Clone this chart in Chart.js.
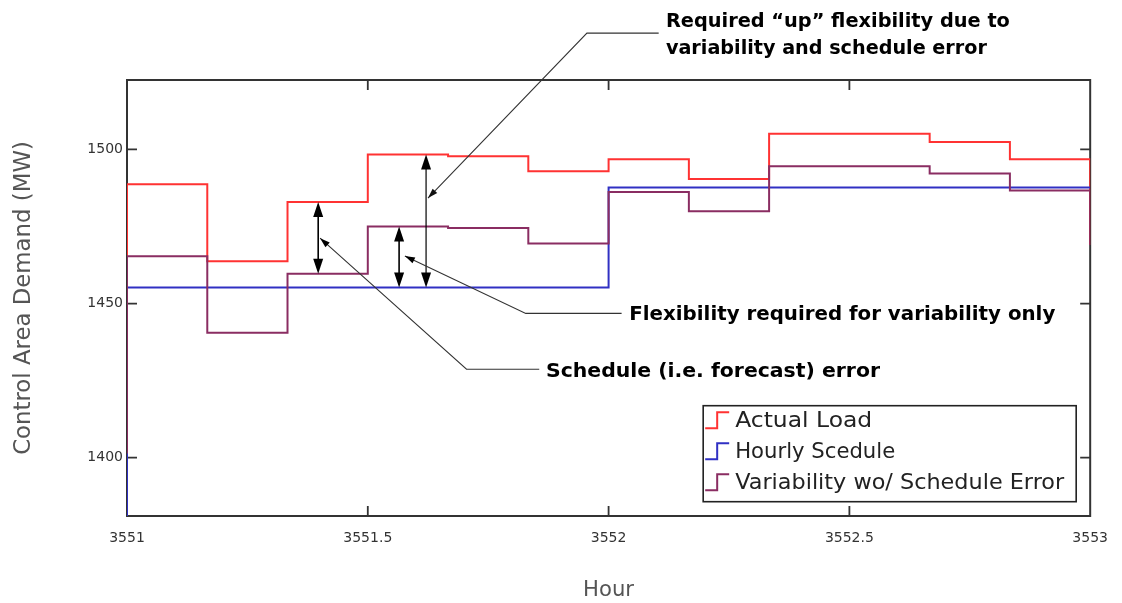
<!DOCTYPE html>
<html>
<head>
<meta charset="utf-8">
<script src="https://cdn.jsdelivr.net/npm/chart.js@4.4.1/dist/chart.umd.min.js"></script>
<style>
  html, body { margin: 0; padding: 0; background: #ffffff; }
  #wrap { width: 1122px; height: 603px; }
</style>
</head>
<body>
<div id="wrap"><canvas id="c" width="1122" height="603"></canvas></div>
<script>
// ---------------- DATA ----------------
const stepStarts = [3551, 3551.1667, 3551.3333, 3551.5, 3551.6667, 3551.8333,
                    3552, 3552.1667, 3552.3333, 3552.5, 3552.6667, 3552.8333];
const hourEnd = 3553;
const seriesNames = ['Actual Load', 'Hourly Scedule', 'Variability wo/ Schedule Error'];
const actualLoad     = [1488.7, 1463.7, 1482.9, 1498.3, 1497.8, 1492.9, 1496.8, 1490.4, 1505.1, 1505.1, 1502.4, 1496.8];
const hourlySchedule = [1455.2, 1455.2, 1455.2, 1455.2, 1455.2, 1455.2, 1487.6, 1487.6, 1487.6, 1487.6, 1487.6, 1487.6];
const variability    = [1465.3, 1440.5, 1459.7, 1475.0, 1474.5, 1469.5, 1486.2, 1479.9, 1494.5, 1494.5, 1492.2, 1486.7];
// values just before the first step and just after the last step (edge verticals)
const actualEdge      = [1465.3, 1469.0];
const scheduleEdge    = [1370.0, 1487.6];
const variabilityEdge = [1401.4, 1469.0];
const xTicks = [3551, 3551.5, 3552, 3552.5, 3553];
const yTicks = [1400, 1450, 1500];
const xRange = [3551, 3553];
const yRange = [1381.1, 1522.5];
const xTitle = 'Hour';
const yTitle = 'Control Area Demand (MW)';

// annotation anchors in data units
const doubleArrows = [
  { x: 3551.397, from: 1482.9, to: 1459.7 },
  { x: 3551.565, from: 1475.0, to: 1455.2 },
  { x: 3551.621, from: 1498.3, to: 1455.2 }
];
const callouts = [
  { tip: [3551.625, 1484.2], elbow: [3551.955, 1537.7], end: [3552.104, 1537.7], textX: 3552.119,
    lines: ['Required \u201cup\u201d flexibility due to', 'variability and schedule error'], baselines: [1539.7, 1530.9], widths: [344, 321] },
  { tip: [3551.577, 1465.4], elbow: [3551.828, 1446.8], end: [3552.027, 1446.8], textX: 3552.043,
    lines: ['Flexibility required for variability only'], baselines: [1444.6], widths: [426] },
  { tip: [3551.401, 1471.2], elbow: [3551.705, 1428.7], end: [3551.856, 1428.7], textX: 3551.870,
    lines: ['Schedule (i.e. forecast) error'], baselines: [1426.3], widths: [334] }
];

// ---------------- STYLE ----------------
const colors = ['rgb(255,50,50)', 'rgb(48,48,195)', 'rgb(138,45,98)'];
const SANS = '"DejaVu Sans", sans-serif';

function measure(text, font) {
  const c = document.createElement('canvas').getContext('2d');
  c.font = font;
  return c.measureText(text).width;
}
function fitSize(text, weight, family, target) {
  return 100 * target / measure(text, weight + ' 100px ' + family);
}

function stepPoints(vals, edge) {
  const pts = [{ x: stepStarts[0], y: edge[0] }];
  vals.forEach((v, i) => pts.push({ x: stepStarts[i], y: v }));
  pts.push({ x: hourEnd, y: vals[vals.length - 1] });
  pts.push({ x: hourEnd, y: edge[1] });
  return pts;
}

function drawScaledText(ctx, text, x, y, font, targetW) {
  ctx.save();
  ctx.font = font;
  const w = ctx.measureText(text).width;
  const sx = targetW ? targetW / w : 1;
  ctx.translate(x, y);
  ctx.scale(sx, 1);
  ctx.fillText(text, 0, 0);
  ctx.restore();
}

function arrowHead(ctx, tx, ty, fx, fy, len, hw) {
  const dx = tx - fx, dy = ty - fy;
  const d = Math.hypot(dx, dy) || 1;
  const ux = dx / d, uy = dy / d;
  const bx = tx - ux * len, by = ty - uy * len;
  ctx.beginPath();
  ctx.moveTo(tx, ty);
  ctx.lineTo(bx - uy * hw, by + ux * hw);
  ctx.lineTo(bx + uy * hw, by - ux * hw);
  ctx.closePath();
  ctx.fill();
}

const framePlugin = {
  id: 'frameAndNotes',
  beforeDatasetsDraw(chart) {
    const { ctx, chartArea: a, scales: { x, y } } = chart;
    ctx.save();
    ctx.strokeStyle = '#333';
    ctx.lineWidth = 2;
    ctx.strokeRect(a.left, a.top, a.right - a.left, a.bottom - a.top);
    ctx.lineWidth = 1.8;
    const TL = 10;
    ctx.beginPath();
    x.ticks.forEach(t => {
      const px = x.getPixelForValue(t.value);
      if (px <= a.left + 1 || px >= a.right - 1) return;
      ctx.moveTo(px, a.bottom); ctx.lineTo(px, a.bottom - TL);
      ctx.moveTo(px, a.top); ctx.lineTo(px, a.top + TL);
    });
    y.ticks.forEach(t => {
      const py = y.getPixelForValue(t.value);
      ctx.moveTo(a.left, py); ctx.lineTo(a.left + TL, py);
      ctx.moveTo(a.right, py); ctx.lineTo(a.right - TL, py);
    });
    ctx.stroke();
    ctx.restore();
  },
  afterDatasetsDraw(chart) {
    const { ctx, chartArea: a, scales: { x, y } } = chart;
    ctx.save();
    // double arrows
    ctx.fillStyle = '#000';
    ctx.strokeStyle = '#000';
    doubleArrows.forEach((d, i) => {
      const px = x.getPixelForValue(d.x);
      const p0 = y.getPixelForValue(d.from), p1 = y.getPixelForValue(d.to);
      ctx.lineWidth = i === 2 ? 1.2 : 1.6;
      ctx.beginPath(); ctx.moveTo(px, p0 + 8); ctx.lineTo(px, p1 - 8); ctx.stroke();
      arrowHead(ctx, px, p0, px, p1, 15, 5);
      arrowHead(ctx, px, p1, px, p0, 15, 5);
    });
    // callouts
    ctx.strokeStyle = '#333';
    ctx.fillStyle = '#111';
    ctx.lineWidth = 1.1;
    callouts.forEach(c => {
      const tx = x.getPixelForValue(c.tip[0]), ty = y.getPixelForValue(c.tip[1]);
      const ex = x.getPixelForValue(c.elbow[0]), ey = y.getPixelForValue(c.elbow[1]);
      const nx = x.getPixelForValue(c.end[0]), ny = y.getPixelForValue(c.end[1]);
      ctx.beginPath(); ctx.moveTo(nx, ny); ctx.lineTo(ex, ey); ctx.lineTo(tx, ty); ctx.stroke();
      arrowHead(ctx, tx, ty, ex, ey, 10, 3.2);
      const txx = x.getPixelForValue(c.textX);
      c.lines.forEach((ln, k) => {
        ctx.fillStyle = '#000';
        ctx.textBaseline = 'alphabetic';
        ctx.textAlign = 'left';
        drawScaledText(ctx, ln, txx, y.getPixelForValue(c.baselines[k]), 'bold 19px ' + SANS, c.widths[k]);
      });
    });
    // legend
    const W = 373, H = 96;
    const L = a.right - 14 - W, T = a.bottom - 14.3 - H;
    ctx.fillStyle = '#fff';
    ctx.fillRect(L, T, W, H);
    ctx.strokeStyle = '#222';
    ctx.lineWidth = 1.6;
    ctx.strokeRect(L, T, W, H);
    const legendWidths = [137, 160, 329];
    seriesNames.forEach((name, i) => {
      const cy = T + 14.5 + i * 31;
      ctx.strokeStyle = colors[i];
      ctx.lineWidth = 2;
      ctx.beginPath();
      ctx.moveTo(L + 2, cy + 8); ctx.lineTo(L + 14, cy + 8);
      ctx.lineTo(L + 14, cy - 8); ctx.lineTo(L + 26, cy - 8);
      ctx.stroke();
      ctx.fillStyle = '#222';
      ctx.textBaseline = 'middle';
      ctx.textAlign = 'left';
      drawScaledText(ctx, name, L + 32, cy + 1, '21px ' + SANS, legendWidths[i]);
    });
    ctx.restore();
  }
};

const yTitleSize = fitSize(yTitle, 'normal', SANS, 314);
const xTitleSize = fitSize(xTitle, 'normal', SANS, 51);

const datasetSources = [actualLoad, hourlySchedule, variability];
const edges = [actualEdge, scheduleEdge, variabilityEdge];
const drawOrder = [3, 2, 1];

new Chart(document.getElementById('c'), {
  type: 'line',
  data: {
    datasets: datasetSources.map((vals, i) => ({
      label: seriesNames[i],
      data: stepPoints(vals, edges[i]),
      borderColor: colors[i],
      backgroundColor: colors[i],
      borderWidth: 2,
      stepped: true,
      pointRadius: 0,
      fill: false,
      order: drawOrder[i]
    }))
  },
  options: {
    responsive: false,
    animation: false,
    devicePixelRatio: 1,
    layout: { padding: { top: 80, right: 31.5, left: 0, bottom: 0 } },
    plugins: { legend: { display: false }, tooltip: { enabled: false } },
    scales: {
      x: {
        type: 'linear', min: xRange[0], max: xRange[1],
        afterFit(s) { s.height = 87; },
        afterBuildTicks(s) { s.ticks = xTicks.map(v => ({ value: v })); },
        grid: { display: false, drawTicks: false },
        border: { display: false },
        ticks: { padding: 14, maxRotation: 0, autoSkip: false, color: '#333',
                 font: { family: SANS, size: 14 }, callback: v => String(v) },
        title: { display: true, text: xTitle, color: '#555',
                 font: { family: SANS, size: xTitleSize, lineHeight: 1.2 }, padding: { top: 3, bottom: 0 } }
      },
      y: {
        type: 'linear', min: yRange[0], max: yRange[1],
        afterFit(s) { s.width = 127; },
        afterBuildTicks(s) { s.ticks = yTicks.map(v => ({ value: v })); },
        grid: { display: false, drawTicks: false },
        border: { display: false },
        ticks: { padding: 4, color: '#333', font: { family: SANS, size: 14 }, callback: v => String(v) },
        title: { display: true, text: yTitle, color: '#555',
                 font: { family: SANS, size: yTitleSize, lineHeight: 1.2 }, padding: { top: 10, bottom: 0 } }
      }
    }
  },
  plugins: [framePlugin]
});
</script>
</body>
</html>
